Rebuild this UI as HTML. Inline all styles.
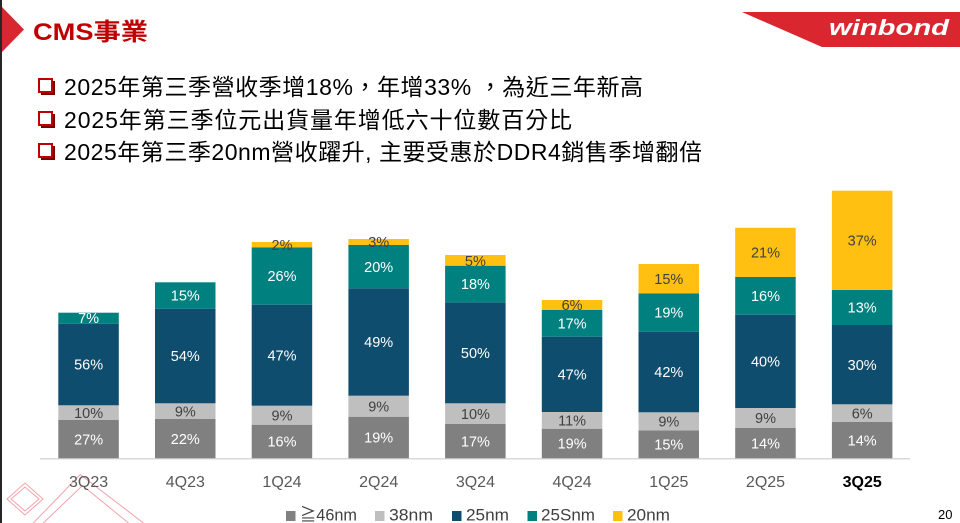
<!DOCTYPE html>
<html>
<head>
<meta charset="utf-8">
<style>
  html,body{margin:0;padding:0;background:#fff;}
  body{width:960px;height:523px;overflow:hidden;position:relative;}
  svg{display:block;}
  .t{font-family:"Liberation Sans","Noto Sans CJK TC",sans-serif;}
</style>
</head>
<body>
<svg width="960" height="523" viewBox="0 0 960 523" xmlns="http://www.w3.org/2000/svg">
  <rect x="0" y="0" width="960" height="523" fill="#ffffff"/>
  <!-- left dark strip -->
  <rect x="0" y="0" width="2" height="523" fill="#262626"/>
  <!-- red triangle -->
  <polygon points="2,7 24,29.5 2,52" fill="#d9272f"/>
  <!-- title -->
  <text class="t" x="33" y="40" font-size="24" font-weight="bold" fill="#c00000" textLength="115" lengthAdjust="spacingAndGlyphs">CMS事業</text>

  <!-- logo -->
  <polygon points="742,12 960,12 960,47 822,47" fill="#d9262f"/>
  <text class="t" x="829" y="35" font-size="22" font-weight="bold" font-style="italic" fill="#ffffff" textLength="120" lengthAdjust="spacingAndGlyphs">winbond</text>

  <!-- bullets -->
  <g fill="none" stroke="#c00000">
    <rect x="39" y="79" width="13" height="13" stroke-width="2"/>
    <rect x="39" y="112" width="13" height="13" stroke-width="2"/>
    <rect x="39" y="144" width="13" height="13" stroke-width="2"/>
  </g>
  <g fill="#7a0000">
    <rect x="53" y="81" width="2" height="13"/><rect x="41" y="93" width="14" height="2"/>
    <rect x="53" y="114" width="2" height="13"/><rect x="41" y="126" width="14" height="2"/>
    <rect x="53" y="146" width="2" height="13"/><rect x="41" y="158" width="14" height="2"/>
  </g>
  <g class="t" font-size="23" fill="#000000">
    <text x="64" y="95" textLength="579" lengthAdjust="spacing">2025年第三季營收季增18%，年增33% ，為近三年新高</text>
    <text x="64" y="128" textLength="508" lengthAdjust="spacing">2025年第三季位元出貨量年增低六十位數百分比</text>
    <text x="64" y="160" textLength="638" lengthAdjust="spacing">2025年第三季20nm營收躍升, 主要受惠於DDR4銷售季增翻倍</text>
  </g>

  <!-- axis line -->
  <line x1="40" y1="458.8" x2="910" y2="458.8" stroke="#d9d9d9" stroke-width="1.5"/>

  <!-- bars -->
  <g>
    <rect x="58.3" y="420" width="60.5" height="38.3" fill="#808080"/>
    <rect x="58.3" y="405.3" width="60.5" height="14.7" fill="#bfbfbf"/>
    <rect x="58.3" y="323.7" width="60.5" height="81.6" fill="#0e4d6d"/>
    <rect x="58.3" y="312.7" width="60.5" height="11" fill="#00807f"/>

    <rect x="155" y="419" width="60.5" height="39.3" fill="#808080"/>
    <rect x="155" y="403.3" width="60.5" height="15.7" fill="#bfbfbf"/>
    <rect x="155" y="308.7" width="60.5" height="94.6" fill="#0e4d6d"/>
    <rect x="155" y="282.3" width="60.5" height="26.4" fill="#00807f"/>

    <rect x="251.7" y="424.7" width="60.5" height="33.6" fill="#808080"/>
    <rect x="251.7" y="405.7" width="60.5" height="19" fill="#bfbfbf"/>
    <rect x="251.7" y="304.7" width="60.5" height="101" fill="#0e4d6d"/>
    <rect x="251.7" y="247.3" width="60.5" height="57.4" fill="#00807f"/>
    <rect x="251.7" y="242" width="60.5" height="5.3" fill="#ffc012"/>

    <rect x="348.4" y="416.7" width="60.5" height="41.6" fill="#808080"/>
    <rect x="348.4" y="395.7" width="60.5" height="21" fill="#bfbfbf"/>
    <rect x="348.4" y="288.3" width="60.5" height="107.4" fill="#0e4d6d"/>
    <rect x="348.4" y="245" width="60.5" height="43.3" fill="#00807f"/>
    <rect x="348.4" y="239" width="60.5" height="6" fill="#ffc012"/>

    <rect x="445.1" y="424" width="60.5" height="34.3" fill="#808080"/>
    <rect x="445.1" y="403.3" width="60.5" height="20.7" fill="#bfbfbf"/>
    <rect x="445.1" y="302.3" width="60.5" height="101" fill="#0e4d6d"/>
    <rect x="445.1" y="265.7" width="60.5" height="36.6" fill="#00807f"/>
    <rect x="445.1" y="255" width="60.5" height="10.7" fill="#ffc012"/>

    <rect x="541.8" y="428.7" width="60.5" height="29.6" fill="#808080"/>
    <rect x="541.8" y="412" width="60.5" height="16.7" fill="#bfbfbf"/>
    <rect x="541.8" y="336.7" width="60.5" height="75.3" fill="#0e4d6d"/>
    <rect x="541.8" y="310" width="60.5" height="26.7" fill="#00807f"/>
    <rect x="541.8" y="300" width="60.5" height="10" fill="#ffc012"/>

    <rect x="638.5" y="430.3" width="60.5" height="28" fill="#808080"/>
    <rect x="638.5" y="412.3" width="60.5" height="18" fill="#bfbfbf"/>
    <rect x="638.5" y="331.7" width="60.5" height="80.6" fill="#0e4d6d"/>
    <rect x="638.5" y="293.3" width="60.5" height="38.4" fill="#00807f"/>
    <rect x="638.5" y="264" width="60.5" height="29.3" fill="#ffc012"/>

    <rect x="735.2" y="428" width="60.5" height="30.3" fill="#808080"/>
    <rect x="735.2" y="408" width="60.5" height="20" fill="#bfbfbf"/>
    <rect x="735.2" y="314.7" width="60.5" height="93.3" fill="#0e4d6d"/>
    <rect x="735.2" y="277" width="60.5" height="37.7" fill="#00807f"/>
    <rect x="735.2" y="227.7" width="60.5" height="49.3" fill="#ffc012"/>

    <rect x="831.9" y="422" width="60.5" height="36.3" fill="#808080"/>
    <rect x="831.9" y="404.3" width="60.5" height="17.7" fill="#bfbfbf"/>
    <rect x="831.9" y="325" width="60.5" height="79.3" fill="#0e4d6d"/>
    <rect x="831.9" y="290" width="60.5" height="35" fill="#00807f"/>
    <rect x="831.9" y="190.7" width="60.5" height="99.3" fill="#ffc012"/>
  </g>

  <!-- bar labels -->
  <g class="t" font-size="14.5" text-anchor="middle">
    <g fill="#ffffff">
      <text x="88.6" y="444.4">27%</text><text x="88.6" y="369.7">56%</text><text x="88.6" y="323.2">7%</text>
      <text x="185.3" y="443.9">22%</text><text x="185.3" y="361.2">54%</text><text x="185.3" y="300.7">15%</text>
      <text x="282" y="446.7">16%</text><text x="282" y="360.4">47%</text><text x="282" y="281.2">26%</text>
      <text x="378.7" y="442.7">19%</text><text x="378.7" y="347.2">49%</text><text x="378.7" y="271.9">20%</text>
      <text x="475.4" y="446.4">17%</text><text x="475.4" y="358">50%</text><text x="475.4" y="289.2">18%</text>
      <text x="572.1" y="448.7">19%</text><text x="572.1" y="379.6">47%</text><text x="572.1" y="328.6">17%</text>
      <text x="668.8" y="449.5">15%</text><text x="668.8" y="377.2">42%</text><text x="668.8" y="317.7">19%</text>
      <text x="765.5" y="448.4">14%</text><text x="765.5" y="366.6">40%</text><text x="765.5" y="301.1">16%</text>
      <text x="862.2" y="445.4">14%</text><text x="862.2" y="369.9">30%</text><text x="862.2" y="312.7">13%</text>
    </g>
    <g fill="#404040">
      <text x="88.6" y="417.9">10%</text>
      <text x="185.3" y="416.4">9%</text>
      <text x="282" y="420.4">9%</text><text x="282" y="250.2">2%</text>
      <text x="378.7" y="411.4">9%</text><text x="378.7" y="247.2">3%</text>
      <text x="475.4" y="418.9">10%</text><text x="475.4" y="266.2">5%</text>
      <text x="572.1" y="425.6">11%</text><text x="572.1" y="310.2">6%</text>
      <text x="668.8" y="426.5">9%</text><text x="668.8" y="283.9">15%</text>
      <text x="765.5" y="423.2">9%</text><text x="765.5" y="257.6">21%</text>
      <text x="862.2" y="418.4">6%</text><text x="862.2" y="245.6">37%</text>
    </g>
  </g>

  <!-- decoration -->
  <g fill="none" stroke="#f2a3aa" stroke-width="1">
    <polygon points="7,499 25,483 43,499 25,515"/>
    <polygon points="11,499 25,487 39,499 25,511"/>
    <polyline points="33.3,523 80.2,474.6 143.5,523"/>
    <polyline points="43.3,523 82.5,485.5 128.5,523"/>
  </g>

  <!-- category labels -->
  <g class="t" font-size="16" text-anchor="middle" fill="#595959">
    <text x="88.6" y="487">3Q23</text>
    <text x="185.3" y="487">4Q23</text>
    <text x="282" y="487">1Q24</text>
    <text x="378.7" y="487">2Q24</text>
    <text x="475.4" y="487">3Q24</text>
    <text x="572.1" y="487">4Q24</text>
    <text x="668.8" y="487">1Q25</text>
    <text x="765.5" y="487">2Q25</text>
    <text x="862.2" y="487" font-weight="bold" fill="#000000">3Q25</text>
  </g>

  <!-- legend -->
  <rect x="286" y="511" width="9.5" height="10" fill="#808080"/>
  <rect x="375" y="511" width="9.5" height="10" fill="#bfbfbf"/>
  <rect x="452" y="511" width="9.5" height="10" fill="#0e4d6d"/>
  <rect x="527.5" y="511" width="9.5" height="10" fill="#00807f"/>
  <rect x="613" y="511" width="9.5" height="10" fill="#ffc012"/>
  <g class="t" font-size="17" fill="#404040">
    <text x="300" y="520.5" textLength="57" lengthAdjust="spacingAndGlyphs">≧46nm</text>
    <text x="389" y="520.5" textLength="44" lengthAdjust="spacingAndGlyphs">38nm</text>
    <text x="466" y="520.5" textLength="43" lengthAdjust="spacingAndGlyphs">25nm</text>
    <text x="541" y="520.5" textLength="54" lengthAdjust="spacingAndGlyphs">25Snm</text>
    <text x="627" y="520.5" textLength="43" lengthAdjust="spacingAndGlyphs">20nm</text>
  </g>

  <!-- page number -->
  <text class="t" x="938" y="519" font-size="13" fill="#000000">20</text>
</svg>
</body>
</html>
